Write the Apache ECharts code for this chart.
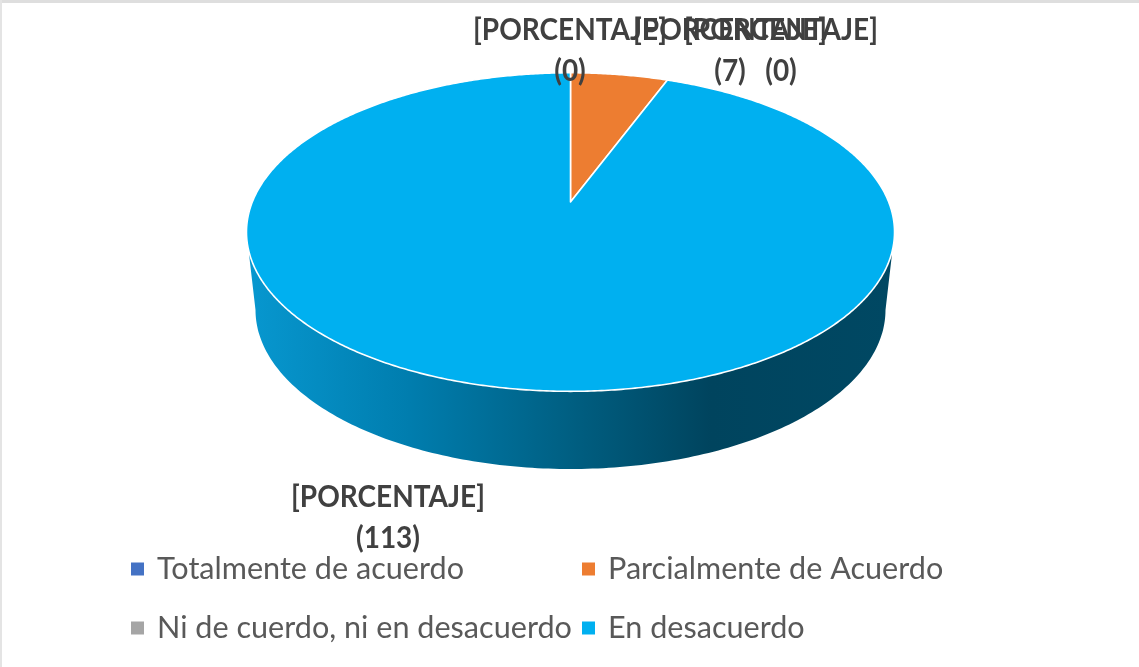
<!DOCTYPE html>
<html>
<head>
<meta charset="utf-8">
<style>html,body{margin:0;padding:0;background:#fff}#c{width:1139px;height:667px}</style>
<script src="https://cdn.jsdelivr.net/npm/echarts@6/dist/echarts.min.js"></script>
</head>
<body>
<div id="c"></div>
<script>
const categories = ['Totalmente de acuerdo', 'Parcialmente de Acuerdo', 'Ni de cuerdo, ni en desacuerdo', 'En desacuerdo'];
const values = [0, 7, 0, 113];
const colors = ['#4472C4', '#ED7D31', '#A5A5A5', '#00B0F0'];
const labelCenters = [[570, 51], [730, 51], [781, 51], [388, 518]];

const total = values.reduce((a, b) => a + b, 0);
const font = 'Lato, "Open Sans", sans-serif';

// perspective disc: the centre of the circle projects above the ellipse centre
const apex = [570.5, 202], A = 153.6, B = 318.2, K = 0.1887;
function rim(deg) {
  const t = deg * Math.PI / 180, x = Math.sin(t), y = Math.cos(t), d = 1 + K * y;
  return [apex[0] + B * x / d, apex[1] - A * y / d];
}
function wallPoints() {
  const pts = [[249, 254]];
  for (let d = 0; d <= 180; d += 1) {
    const t = d * Math.PI / 180;
    pts.push([570.5 - 315 * Math.cos(t), 310 + 159 * Math.sin(t)]);
  }
  pts.push([892, 254]);
  return pts;
}
const wallFill = {
  type: 'linear', x: 250, y: 0, x2: 890, y2: 0, global: true,
  colorStops: [
    {offset: 0, color: '#0797CF'},
    {offset: 0.25, color: '#007DAE'},
    {offset: 0.5, color: '#005F82'},
    {offset: 0.72, color: '#00445E'},
    {offset: 1, color: '#004863'}
  ]
};

const series = categories.map((name, i) => ({
  type: 'custom',
  name,
  coordinateSystem: 'none',
  silent: true,
  animation: false,
  clip: false,
  itemStyle: {color: colors[i]},
  data: [values[i]],
  renderItem: (params, api) => {
    const v = api.value(0);
    const before = values.slice(0, i).reduce((a, b) => a + b, 0);
    const a0 = before / total * 360, a1 = (before + v) / total * 360;
    const children = [];
    if (v > 0) {
      if (a1 - a0 > 180) {
        children.push({type: 'polygon', shape: {points: wallPoints()}, style: {fill: wallFill}});
      }
      const pts = [apex.slice()];
      for (let d = a0; d < a1; d += 0.5) pts.push(rim(d));
      pts.push(rim(a1));
      children.push({type: 'polygon', shape: {points: pts},
        style: {fill: colors[i], stroke: '#fff', lineWidth: 1.6, lineJoin: 'round'}});
    }
    children.push({type: 'text', z2: 100, x: labelCenters[i][0], y: labelCenters[i][1], scaleY: 1.1,
      style: {text: '[PORCENTAJE]\n(' + v + ')', fill: '#404040', font: 'bold 28px ' + font,
        align: 'center', verticalAlign: 'middle', lineHeight: 37.3}});
    return {type: 'group', children};
  }
}));

const legendBase = {
  orient: 'vertical', top: 546, itemWidth: 13, itemHeight: 13, itemGap: 23, icon: 'rect',
  selectedMode: false,
  textStyle: {color: '#595959', fontFamily: font, fontSize: 30.6, padding: [0, 0, 0, 8], lineHeight: 36}
};

const chart = echarts.init(document.getElementById('c'), null, {renderer: 'canvas'});
chart.setOption({
  animation: false,
  backgroundColor: '#fff',
  legend: [
    Object.assign({}, legendBase, {left: 126, data: [categories[0], categories[2]]}),
    Object.assign({}, legendBase, {left: 577, data: [categories[1], categories[3]]})
  ],
  graphic: [
    {type: 'rect', shape: {x: 0, y: 0, width: 1139, height: 3}, style: {fill: '#DEDEDE'}, silent: true},
    {type: 'rect', shape: {x: 0, y: 0, width: 2, height: 667}, style: {fill: '#E4E4E4'}, silent: true}
  ],
  series
});
</script>
</body>
</html>
